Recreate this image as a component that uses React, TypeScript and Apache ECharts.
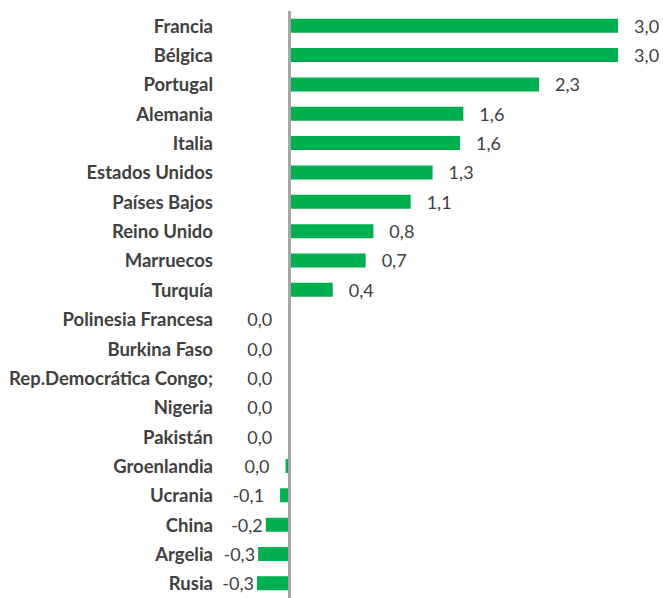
import React, { useEffect, useRef } from "react";
import * as echarts from "echarts";

const categories = [
  "Francia",
  "Bélgica",
  "Portugal",
  "Alemania",
  "Italia",
  "Estados Unidos",
  "Países Bajos",
  "Reino Unido",
  "Marruecos",
  "Turquía",
  "Polinesia Francesa",
  "Burkina Faso",
  "Rep.Democrática Congo;",
  "Nigeria",
  "Pakistán",
  "Groenlandia",
  "Ucrania",
  "China",
  "Argelia",
  "Rusia",
];

const values = [
  3.0, 3.0, 2.28, 1.59, 1.56, 1.31, 1.11, 0.77, 0.7, 0.4,
  -0.005, -0.005, -0.005, -0.005, -0.005, -0.03, -0.08, -0.21, -0.28, -0.29,
];

const fmt = (v: number) => {
  const r = Math.round(v * 10) / 10;
  const s = (r === 0 ? 0 : r).toFixed(1).replace(".", ",");
  return s;
};

export default function App() {
  const ref = useRef<HTMLDivElement>(null);
  useEffect(() => {
    document.body.style.margin = "0";
    const chart = echarts.init(ref.current!, null, { renderer: "svg" });
    const data = values.map((v) => ({
      value: v,
      label: {
        position: v >= 0 ? "right" : "left",
        distance: v >= 0 ? 16 : v < -0.15 ? 3 : 16,
      },
    }));
    chart.setOption({
      animation: false,
      grid: { left: 223, right: 1, top: 11, height: 589 },
      xAxis: {
        type: "value",
        min: -0.6,
        max: 3.4,
        show: false,
        splitLine: { show: false },
      },
      yAxis: {
        type: "category",
        inverse: true,
        data: categories,
        axisLine: { show: false },
        axisTick: { show: false },
        axisLabel: {
          color: "#404040",
          fontWeight: "bold",
          fontFamily: "Lato",
          fontSize: 18.5,
          margin: 10,
        },
      },
      series: [
        {
          type: "bar",
          data,
          barWidth: 14,
          itemStyle: { color: "#00B050" },
          label: {
            show: true,
            color: "#404040",
            fontFamily: "Lato",
            fontSize: 18,
            formatter: (p: any) => fmt(p.value),
          },
          markLine: {
            silent: true,
            symbol: "none",
            label: { show: false },
            lineStyle: { color: "#A6A6A6", width: 3, type: "solid" },
            data: [{ xAxis: 0 }],
          },
        },
      ],
    });
    return () => chart.dispose();
  }, []);
  return <div ref={ref} style={{ width: 663, height: 598 }} />;
}
